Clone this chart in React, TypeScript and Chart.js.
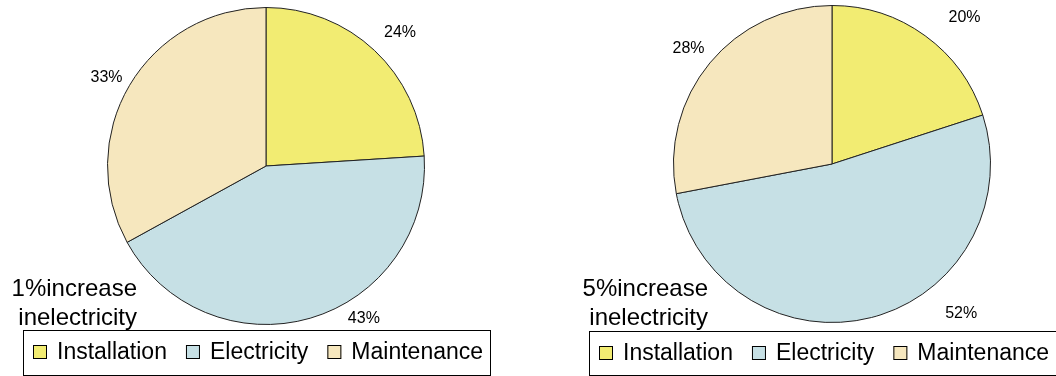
import React, { useEffect, useRef } from "react";
import { Chart, registerables } from "chart.js";

Chart.register(...registerables);

const categories = ["Installation", "Electricity", "Maintenance"];
const share1 = [24, 43, 33];
const share5 = [20, 52, 28];
const caption1 = ["1%increase", "inelectricity"];
const caption5 = ["5%increase", "inelectricity"];
const sliceColors = ["#F2EC72", "#C6E0E5", "#F6E7BE"];

const FONT = '"Liberation Sans", Arial, sans-serif';

const extrasPlugin = {
  id: "extras",
  afterDraw(chart: any, _args: any, opts: any) {
    const ctx = chart.ctx as CanvasRenderingContext2D;
    const meta = chart.getDatasetMeta(0);
    const ds = chart.data.datasets[0];
    ctx.save();
    // percentage labels
    ctx.font = `16px ${FONT}`;
    ctx.fillStyle = "#000";
    ctx.textAlign = "center";
    ctx.textBaseline = "middle";
    meta.data.forEach((arc: any, i: number) => {
      const p = arc.getProps(["x", "y", "startAngle", "endAngle", "outerRadius"], true);
      const mid = (p.startAngle + p.endAngle) / 2 + (opts.nudge[i] * Math.PI) / 180;
      const r = p.outerRadius * opts.factor[i];
      ctx.fillText(ds.data[i] + "%", p.x + Math.cos(mid) * r, p.y + Math.sin(mid) * r);
    });
    // caption
    ctx.font = `24px ${FONT}`;
    ctx.textAlign = "right";
    ctx.textBaseline = "alphabetic";
    opts.caption.forEach((line: string, i: number) => {
      ctx.fillText(line, opts.captionX, opts.captionY + i * 29);
    });
    // legend
    const b = opts.legendBox;
    ctx.fillStyle = "#fff";
    ctx.fillRect(b.x, b.y, b.w, b.h);
    ctx.strokeStyle = "#000";
    ctx.lineWidth = 1;
    ctx.strokeRect(b.x + 0.5, b.y + 0.5, b.w, b.h);
    ctx.font = `23px ${FONT}`;
    ctx.textAlign = "left";
    let x = opts.legendStart;
    const base = b.y + 29;
    chart.data.labels.forEach((lab: string, i: number) => {
      ctx.fillStyle = ds.backgroundColor[i];
      ctx.fillRect(x, base - 14, 14, 14);
      ctx.strokeStyle = "#000";
      ctx.strokeRect(x + 0.5, base - 13.5, 13, 13);
      ctx.fillStyle = "#000";
      ctx.fillText(lab, x + 24, base);
      x += 24 + ctx.measureText(lab).width + 19;
    });
    ctx.restore();
  },
};

function makeConfig(values: number[], padding: any, extras: any): any {
  return {
    type: "pie",
    data: {
      labels: categories,
      datasets: [
        {
          data: values,
          backgroundColor: sliceColors,
          borderColor: "#222",
          borderWidth: 1,
        },
      ],
    },
    options: {
      responsive: false,
      animation: false,
      layout: { padding },
      plugins: {
        legend: { display: false },
        tooltip: { enabled: false },
        extras,
      },
    },
    plugins: [extrasPlugin],
  };
}

function PieCanvas(props: { values: number[]; padding: any; extras: any; left: number; width: number }) {
  const ref = useRef<HTMLCanvasElement | null>(null);
  useEffect(() => {
    if (!ref.current) return;
    const chart = new Chart(ref.current, makeConfig(props.values, props.padding, props.extras));
    return () => chart.destroy();
  }, []);
  return (
    <canvas
      ref={ref}
      width={props.width}
      height={376}
      style={{ position: "absolute", left: props.left, top: 0, width: props.width, height: 376 }}
    />
  );
}

export default function App() {
  return (
    <div style={{ position: "fixed", left: 0, top: 0, width: 1056, height: 376, background: "#fff", overflow: "hidden" }}>
      <PieCanvas
        values={share1}
        left={0}
        width={540}
        padding={{ left: 107, right: 115, top: 7, bottom: 51 }}
        extras={{
          nudge: [1.9, -16.4, -1.6],
          factor: [1.194, 1.146, 1.15],
          caption: caption1,
          captionX: 137,
          captionY: 296,
          legendBox: { x: 23, y: 330, w: 467, h: 45 },
          legendStart: 33,
        }}
      />
      <PieCanvas
        values={share5}
        left={540}
        width={516}
        padding={{ left: 133, right: 65, top: 5, bottom: 53 }}
        extras={{
          nudge: [6.2, -26.4, -0.9],
          factor: [1.245, 1.247, 1.16],
          caption: caption5,
          captionX: 168,
          captionY: 296,
          legendBox: { x: 49, y: 331, w: 480, h: 44 },
          legendStart: 59,
        }}
      />
    </div>
  );
}
